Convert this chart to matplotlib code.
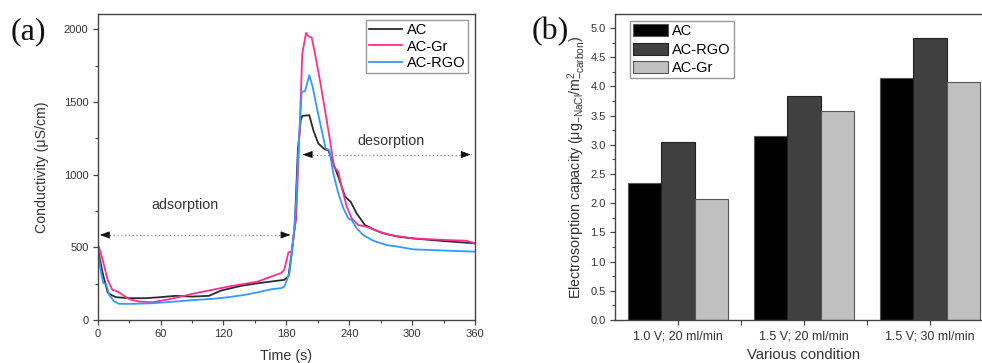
import numpy as np
import matplotlib
matplotlib.use("Agg")
import matplotlib.pyplot as plt
from matplotlib.ticker import MultipleLocator, FixedLocator, FormatStrFormatter

plt.rcParams['font.family'] = ['Liberation Sans', 'DejaVu Sans']
plt.rcParams['mathtext.fontset'] = 'custom'
plt.rcParams['mathtext.rm'] = 'Liberation Sans'
plt.rcParams['mathtext.it'] = 'Liberation Sans:italic'

# (a) 電導度 vs 時間
t_ac = [0, 4.7, 9.5, 12.6, 17.4, 30, 46, 60, 74, 90, 106, 118, 137, 153, 166, 178, 182, 185,
        188, 191, 193.7, 195.2, 201.9, 205.7, 210.5, 216.9, 220, 224.8, 229.6, 236, 241.4,
        247.1, 255, 264.6, 272.5, 286.8, 301, 326.6, 360]
y_ac = [495, 323, 189, 173, 157, 150, 150, 157, 166, 161, 166, 203, 235, 253, 265, 276, 300, 456,
        640, 1170, 1375, 1404, 1409, 1306, 1214, 1173, 1168, 1077, 985, 848, 813,
        733, 653, 619, 596, 573, 561, 545, 527]

t_gr = [0, 4.7, 9.5, 14, 19, 23.7, 30, 39.5, 52, 65, 77, 93, 109, 125, 140.5, 153, 166, 175, 178,
        182, 185, 188, 189.3, 193, 195.2, 198.8, 201, 204.2, 207.3, 212, 216.9, 221.6, 225.5,
        229.6, 232.8, 237.6, 242.4, 248.7, 256.7, 266, 279, 301, 333, 352, 360]
y_gr = [530, 415, 276, 207, 196, 173, 143, 127, 122, 138, 157, 184, 207, 230, 249, 265, 300, 323, 346,
        465, 472, 640, 687, 1375, 1833, 1975, 1952, 1943, 1833, 1650, 1443, 1237, 1054,
        1019, 916, 779, 699, 653, 641, 614, 584, 561, 550, 545, 527]

t_rgo = [0, 3.2, 5.4, 7.9, 11, 15.8, 20.5, 33, 52, 74, 93, 109, 125, 140.5, 153, 166, 175, 178,
         183, 186.6, 189.5, 191.4, 194.6, 197.8, 201.9, 205.1, 208.9, 213.7, 217.5, 221, 224.8,
         229.6, 234.4, 239.1, 242.4, 247.1, 253.4, 263, 275.8, 286.8, 301, 333, 360]
y_rgo = [484, 323, 253, 249, 173, 127, 111, 111, 115, 127, 138, 145, 157, 173, 191, 212, 219, 230,
         323, 550, 829, 1146, 1569, 1574, 1684, 1604, 1466, 1306, 1180, 1168, 1008,
         871, 768, 699, 687, 630, 584, 545, 515, 504, 486, 477, 470]

# (b) 電吸附容量
conditions = ["1.0 V; 20 ml/min", "1.5 V; 20 ml/min", "1.5 V; 30 ml/min"]
cap_ac = [2.35, 3.15, 4.14]
cap_rgo = [3.05, 3.84, 4.83]
cap_gr = [2.08, 3.58, 4.07]

txt = '#333333'
fig = plt.figure(figsize=(9.82, 3.63), dpi=100)

# ---- 左圖 ----
ax1 = fig.add_axes([0.0995, 0.1185, 0.3842, 0.843])
ax1.plot(t_ac, y_ac, color='#2b2b2b', lw=1.3, label='AC')
ax1.plot(t_gr, y_gr, color='#ff2d8f', lw=1.3, label='AC-Gr')
ax1.plot(t_rgo, y_rgo, color='#3399ff', lw=1.3, label='AC-RGO')
ax1.set_xlim(0, 360)
ax1.set_ylim(0, 2105)
ax1.xaxis.set_major_locator(MultipleLocator(60))
ax1.xaxis.set_minor_locator(MultipleLocator(30))
ax1.yaxis.set_major_locator(MultipleLocator(500))
ax1.yaxis.set_minor_locator(MultipleLocator(250))
ax1.set_xlabel('Time (s)', fontsize=10.3, color=txt, labelpad=7)
ax1.set_ylabel('Conductivity (μS/cm)', fontsize=10.2, color=txt, labelpad=11)

# 吸附 / 脫附 箭頭
ax1.plot([4, 180], [585, 585], ls=(0, (1, 2)), color='#888888', lw=0.9)
ax1.plot([198, 352], [1138, 1138], ls=(0, (1, 2)), color='#888888', lw=0.9)
head = dict(arrowstyle='-|>,head_length=0.6,head_width=0.22', color='#111111', lw=0.6,
            mutation_scale=10, shrinkA=0, shrinkB=0)
for x0, x1, yy in [(8, 2, 585), (177, 184, 585), (202, 195.5, 1138), (349, 356, 1138)]:
    ax1.annotate('', xy=(x1, yy), xytext=(x0, yy), arrowprops=head)
ax1.text(83, 790, 'adsorption', ha='center', va='center', fontsize=10.3, color=txt)
ax1.text(280, 1232, 'desorption', ha='center', va='center', fontsize=10.3, color=txt)

leg1 = ax1.legend(loc='upper right', bbox_to_anchor=(1 - 7 / 377, 1 - 6.5 / 306),
                  fontsize=10.5, frameon=True, fancybox=False, edgecolor='#999999',
                  handlelength=2.3, borderpad=0.2, labelspacing=0.15, handletextpad=0.3,
                  borderaxespad=0, framealpha=1)
leg1.get_frame().set_linewidth(1.0)
fig.text(0.011, 0.913, '(a)', fontsize=23, family='Liberation Serif', va='center', color='#111111')

# ---- 右圖 ----
ax2 = fig.add_axes([0.6263, 0.1185, 0.385, 0.843])
x = np.arange(1, len(conditions) + 1)
w = 0.8 / 3
ax2.bar(x - w, cap_ac, w, color='#000000', edgecolor='#555555', lw=0.8, label='AC')
ax2.bar(x, cap_rgo, w, color='#404040', edgecolor='#222222', lw=0.8, label='AC-RGO')
ax2.bar(x + w, cap_gr, w, color='#c0c0c0', edgecolor='#555555', lw=0.8, label='AC-Gr')
ax2.set_xlim(0.5, 3.5)
ax2.set_ylim(0, 5.24)
ax2.set_xticks(x)
ax2.set_xticklabels(conditions)
ax2.xaxis.set_minor_locator(FixedLocator([1.5, 2.5]))
ax2.yaxis.set_major_locator(MultipleLocator(0.5))
ax2.yaxis.set_minor_locator(MultipleLocator(0.25))
ax2.yaxis.set_major_formatter(FormatStrFormatter('%.1f'))
ax2.set_xlabel('Various condition', fontsize=10.7, color=txt, labelpad=4)
ax2.set_ylabel(r'Electrosorption capacity (μg$_{\mathrm{-NaCl}}$/m$^{2}_{\mathrm{-carbon}}$)',
               fontsize=10.3, color=txt, labelpad=2)
leg2 = ax2.legend(loc='upper left', bbox_to_anchor=(15 / 378, 1 - 7.5 / 306),
                  fontsize=10.5, frameon=True, fancybox=False, edgecolor='#999999',
                  handlelength=2.4, handleheight=0.9, borderpad=0.2, labelspacing=0.3,
                  handletextpad=0.3, borderaxespad=0, framealpha=1)
leg2.get_frame().set_linewidth(1.0)
fig.text(0.541, 0.913, '(b)', fontsize=23, family='Liberation Serif', va='center', color='#111111')

for ax in (ax1, ax2):
    for s in ax.spines.values():
        s.set_color('#444444')
        s.set_linewidth(1.0)
    ax.tick_params(which='major', direction='out', length=3.6, width=0.9, colors='#444444',
                   labelsize=8, labelcolor=txt, pad=3)
    ax.tick_params(which='minor', direction='out', length=2.2, width=0.8, colors='#444444')
ax2.tick_params(axis='x', which='minor', length=3.6)
ax2.tick_params(axis='x', which='major', labelsize=9, pad=4)

fig.savefig('out.png', dpi=100)
